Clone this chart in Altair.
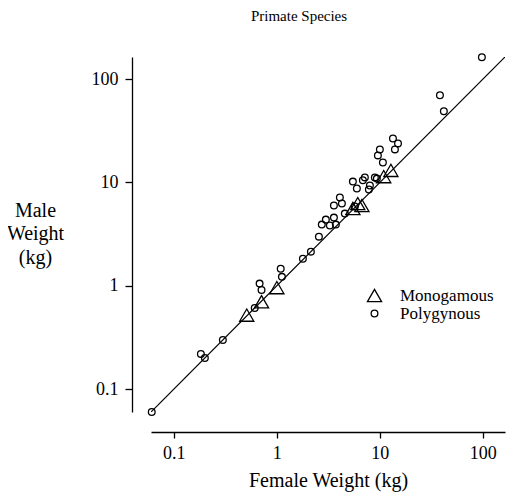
import altair as alt
import pandas as pd

# Monogamous species (triangles): female weight, male weight (kg)
mono_female = [0.51, 0.71, 1.0, 5.47, 6.1, 6.7, 10.9, 12.8]
mono_male = [0.52, 0.70, 0.96, 5.6, 6.25, 5.98, 11.4, 13.1]

# Polygynous species (circles)
poly_female = [0.061, 0.183, 0.200, 0.299, 0.61, 0.68, 0.71, 1.09, 1.12, 1.79,
               2.14, 2.56, 2.73, 2.99, 3.27, 3.58, 3.74, 3.58, 4.09, 4.28,
               4.57, 5.47, 5.98, 6.84, 7.15, 8.0, 8.94, 9.35, 7.82, 9.57,
               10.0, 10.7, 13.4, 15.0, 14.0, 38.3, 41.8, 97.8, 5.72]
poly_male = [0.060, 0.219, 0.200, 0.299, 0.61, 1.05, 0.91, 1.46, 1.22, 1.83,
             2.14, 2.99, 3.91, 4.37, 3.83, 4.57, 3.91, 5.98, 7.15, 6.25,
             5.0, 10.2, 8.75, 10.5, 11.2, 9.35, 11.2, 10.9, 8.55, 18.3,
             20.9, 15.6, 26.7, 23.9, 20.9, 69.9, 48.9, 163.0, 5.85]

line_ends = [0.06, 164]
tick_values = [0.1, 1, 10, 100]
groups = ["Monogamous", "Polygynous"]

df = pd.DataFrame({
    "female": mono_female + poly_female,
    "male": mono_male + poly_male,
    "system": [groups[0]] * len(mono_female) + [groups[1]] * len(poly_female),
})
line_df = pd.DataFrame({"female": line_ends, "male": line_ends})

FONT = "Liberation Serif"
xscale = alt.Scale(type="log", domain=line_ends, nice=False)
yscale = alt.Scale(type="log", domain=line_ends, nice=False)

x_axis = alt.Axis(values=tick_values, format="~g", title="Female Weight (kg)",
                  offset=20, grid=False, tickSize=6, labelPadding=6,
                  titleY=48, titleBaseline="middle")
y_axis = alt.Axis(values=tick_values, format="~g", title=["Male", "Weight", "(kg)"],
                  offset=19, grid=False, tickSize=7, labelPadding=7,
                  titleAngle=0, titleAlign="center", titleBaseline="middle",
                  titleX=-97, titleY=153, titleLineHeight=23.5)

line = alt.Chart(line_df).mark_line(color="black", strokeWidth=1.2, clip=True).encode(
    x=alt.X("female:Q", scale=xscale, axis=x_axis),
    y=alt.Y("male:Q", scale=yscale, axis=y_axis),
)

points = alt.Chart(df).mark_point(filled=False, color="black", strokeWidth=1.3,
                                  opacity=1, clip=False).encode(
    x=alt.X("female:Q", scale=xscale, axis=x_axis),
    y=alt.Y("male:Q", scale=yscale, axis=y_axis),
    shape=alt.Shape("system:N",
                    scale=alt.Scale(domain=groups, range=["triangle-up", "circle"]),
                    legend=alt.Legend(title=None)),
    size=alt.Size("system:N", scale=alt.Scale(domain=groups, range=[200, 45]),
                  legend=alt.Legend(title=None)),
)

chart = alt.layer(line, points).properties(
    width=354, height=355,
    autosize=alt.AutoSizeParams(type="none"),
    padding={"left": 143, "top": 49, "right": 1, "bottom": 80},
    title=alt.TitleParams("Primate Species", font=FONT, fontSize=15,
                          fontWeight="normal", color="black", anchor="middle",
                          dx=-29, offset=27),
).configure_view(stroke=None).configure_axis(
    labelFont=FONT, titleFont=FONT, labelFontSize=18, titleFontSize=20,
    titleFontWeight="normal", labelColor="black", titleColor="black",
    domainColor="black", tickColor="black", domainWidth=1.3, tickWidth=1.3,
).configure_legend(
    orient="none", legendX=215, legendY=230, padding=0, labelFont=FONT,
    labelFontSize=17, labelColor="black", labelOffset=17, rowPadding=-2,
    symbolStrokeColor="black", symbolStrokeWidth=1.3, symbolFillColor="transparent",
)

chart.save("out.html", embed_options={"renderer": "svg", "actions": False})
